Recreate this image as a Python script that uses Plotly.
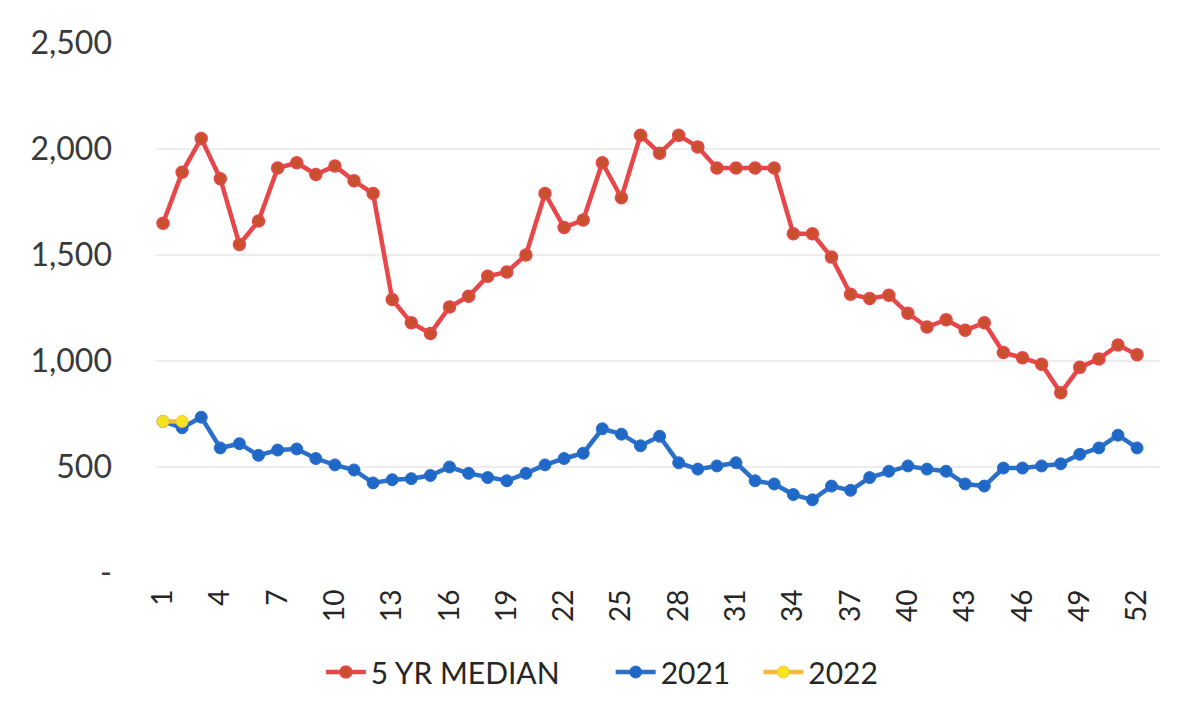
import plotly.graph_objects as go

weeks = list(range(1, 53))
median_5yr = [1650, 1890, 2050, 1860, 1550, 1660, 1910, 1935, 1880, 1920,
              1850, 1790, 1290, 1180, 1130, 1255, 1305, 1400, 1420, 1500,
              1790, 1630, 1665, 1935, 1770, 2065, 1980, 2065, 2010, 1910,
              1910, 1910, 1910, 1600, 1600, 1490, 1315, 1295, 1310, 1225,
              1160, 1195, 1145, 1180, 1040, 1015, 985, 850, 970, 1010,
              1075, 1030]
y2021 = [715, 685, 735, 590, 610, 555, 580, 585, 540, 510,
         486, 425, 440, 445, 460, 500, 470, 450, 435, 470,
         510, 540, 565, 680, 655, 600, 645, 520, 490, 505,
         520, 435, 420, 370, 345, 410, 390, 450, 480, 505,
         490, 480, 420, 410, 495, 495, 505, 515, 560, 590,
         650, 590]
weeks_2022 = [1, 2]
y2022 = [715, 715]

y_tickvals = [0, 500, 1000, 1500, 2000, 2500]
y_ticktext = ["-", "500", "1,000", "1,500", "2,000", "2,500"]
x_tickvals = list(range(1, 53, 3))

FONT = "Lato, 'Open Sans', sans-serif"
NB = "\u00a0"

fig = go.Figure()
fig.add_trace(go.Scatter(
    x=weeks, y=median_5yr, name="5 YR MEDIAN" + NB * 6, mode="lines+markers",
    line=dict(color="#E8474A", width=4.5),
    marker=dict(color="#C9502F", size=12, line=dict(color="#E8474A", width=1.5)),
))
fig.add_trace(go.Scatter(
    x=weeks, y=y2021, name="2021" + NB * 3, mode="lines+markers",
    line=dict(color="#2A6FC9", width=4.5),
    marker=dict(color="#1F68C8", size=12, line=dict(color="#2A6FC9", width=1)),
))
fig.add_trace(go.Scatter(
    x=weeks_2022, y=y2022, name="2022", mode="lines+markers",
    line=dict(color="#F2B93A", width=4.5),
    marker=dict(color="#F7E21E", size=12, line=dict(color="#F2C83A", width=1)),
))

fig.update_layout(
    width=1184, height=714,
    paper_bgcolor="white", plot_bgcolor="white",
    margin=dict(l=147, r=32, t=35, b=149, autoexpand=False),
    font=dict(family=FONT, color="#262626"),
    showlegend=True,
    legend=dict(orientation="h", xref="container", yref="container",
                x=0.502, xanchor="center", y=0.07, yanchor="middle",
                font=dict(size=30, color="#262626", family=FONT),
                itemwidth=40, traceorder="normal"),
    xaxis=dict(range=[0.58, 53.2], tickmode="array", tickvals=x_tickvals,
               ticktext=[str(v) for v in x_tickvals], tickangle=-90,
               showgrid=False, zeroline=False, showline=False,
               tickfont=dict(size=28, color="#262626"), ticks="",
               ticklabelstandoff=10),
    yaxis=dict(range=[0, 2500], tickmode="array", tickvals=y_tickvals,
               ticktext=y_ticktext, showgrid=True, gridcolor="#EDEDED",
               gridwidth=1.5, zeroline=False, showline=False,
               tickfont=dict(size=32, color="#3A3A3A"), ticks="",
               ticklabelstandoff=42),
)

fig.write_html("out.html")
